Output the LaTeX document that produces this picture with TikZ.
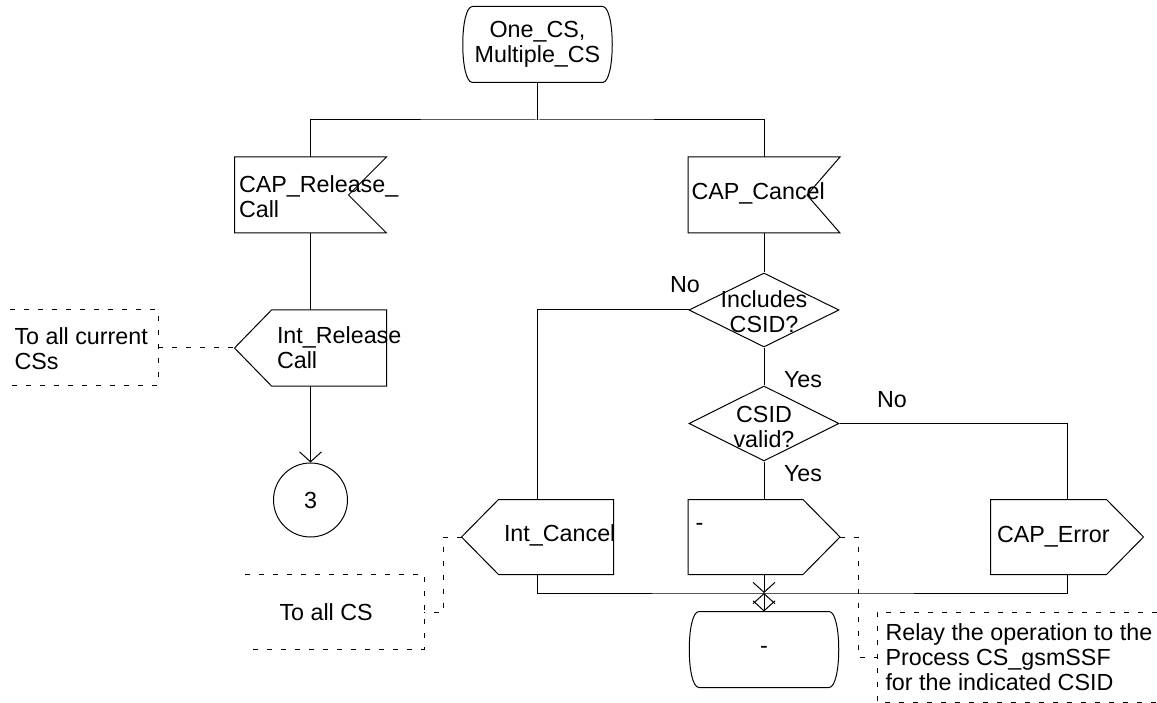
\documentclass[tikz,border=0pt]{standalone}
\usepackage{fontspec}
\setmainfont{Liberation Sans}
\usetikzlibrary{arrows.meta,shapes.geometric,positioning}

% SDL symbols, drawn round a plain node
\newcommand{\sdlinput}[2]{% notch on the right
  \draw (#1.north west) -- (#1.north east) -- ([xshift=-#2]#1.east) -- (#1.south east) -- (#1.south west) -- cycle;}
\newcommand{\sdloutleft}[1]{%
  \draw (#1.west) -- ([xshift=37pt]#1.north west) -- (#1.north east) -- (#1.south east) -- ([xshift=37pt]#1.south west) -- cycle;}
\newcommand{\sdloutright}[1]{%
  \draw (#1.east) -- ([xshift=-37pt]#1.north east) -- (#1.north west) -- (#1.south west) -- ([xshift=-37pt]#1.south east) -- cycle;}
\newcommand{\sdlstate}[1]{% straight top and bottom, bent sides
  \draw ([xshift=10pt]#1.north west) -- ([xshift=-10pt]#1.north east)
    .. controls ([xshift=3pt]#1.north east) and ([xshift=3pt]#1.south east) .. ([xshift=-10pt]#1.south east)
    -- ([xshift=10pt]#1.south west)
    .. controls ([xshift=-3pt]#1.south west) and ([xshift=-3pt]#1.north west) .. cycle;}

\begin{document}
\begin{tikzpicture}[x=1pt,y=-1pt,line width=1pt,>={Straight Barb[length=10pt,width=22pt]},
    every node/.style={font=\fontsize{23.3}{25}\selectfont},
    box/.style={minimum width=151pt,minimum height=75pt,inner sep=0pt},
    decide/.style={draw,diamond,minimum width=150pt,minimum height=74pt,inner sep=0pt},
    txt/.style={align=left,inner sep=0pt},
    note/.style={dash pattern=on 5pt off 9pt}]
    \useasboundingbox (0,0) rectangle (1157,703);

    % Start
    \node[box,minimum width=149pt,align=center] (start) at (537.5,44.5) {One\_CS,\\Multiple\_CS};
    \sdlstate{start}

    % Inputs
    \node[box] (relcall) at (310.5,195) {};
    \sdlinput{relcall}{38pt}
    \node[txt,anchor=west] (relcallT) at ([xshift=4pt,yshift=-2pt]relcall.west) {CAP\_Release\_\\Call};
    \node[box] (cancel) at (764,195) {};
    \sdlinput{cancel}{33pt}
    \node[txt,anchor=west] (cancelT) at ([xshift=3pt,yshift=2pt]cancel.west) {CAP\_Cancel};

    % Decisions
    \node[decide] (incl) at (764,310) {};
    \node[txt,align=center] (inclT) at ([yshift=-2pt]incl) {Includes\\CSID?};
    \node[decide,minimum height=75pt] (valid) at (764,423.5) {};
    \node[txt,align=center] (validT) at ([yshift=-3pt]valid) {CSID\\valid?};

    % Outputs
    \node[box] (intrel) at (310.5,348) {};
    \sdloutleft{intrel}
    \node[txt,anchor=west] (intrelT) at ([xshift=42pt]intrel.west) {Int\_Release\\Call};
    \node[box,minimum height=74pt] (intcan) at (537.5,537) {};
    \sdloutleft{intcan}
    \node[txt,anchor=west] (intcanT) at ([xshift=42pt,yshift=2pt]intcan.west) {Int\_Cancel};
    \node[box,minimum height=74pt] (dash) at (764,537) {};
    \sdloutright{dash}
    \node[txt,anchor=west] (dashT) at ([xshift=7pt,yshift=10pt]dash.west) {-};
    \node[box,minimum height=74pt,minimum width=152pt] (caperr) at (1067,537) {};
    \sdloutright{caperr}
    \node[txt,anchor=west] (caperrT) at ([xshift=6pt]caperr.west) {CAP\_Error};

    % Connector and stop
    \node[draw,circle,minimum size=74pt,inner sep=0pt] (three) at (310.5,500) {3};
    \node[box,minimum width=149pt] (stop) at (764,649.5) {-};
    \sdlstate{stop}

    % Flow lines
    \coordinate (split) at (537.5,120);
    \coordinate (join) at (764,593);
    \draw (start) -- (split);
    \draw (relcall.north) |- (split) -| (cancel.north);
    \draw (relcall) -- (intrel);
    \draw[->] (intrel) -- (three);
    \draw (cancel) -- (incl);
    \draw (incl) -- (valid);
    \draw (valid) -- (dash);
    \draw (incl.west) -| (intcan.north);
    \draw (valid.east) -| (caperr.north);
    \draw[->] (dash) -- (join);
    \draw (intcan.south) |- (join) -| (caperr.south);
    \draw[<->] (join) -- (stop);

    % Answers
    \node (no1) at (685,285) {No};
    \node (yes1) at (803,380) {Yes};
    \node (no2) at (892,400) {No};
    \node (yes2) at (803,474) {Yes};

    % Comments
    \draw[note] (10,310) -| (158,385) -- (10,385);
    \node[txt,anchor=west] (c1T) at (14,349) {To all current\\CSs};
    \coordinate (c1) at (158,348);
    \draw[note] (c1) -- (intrel.west);

    \draw[note] (245,574) -| (424,649) -- (245,649);
    \node[txt,anchor=west] (c2T) at (279,612) {To all CS};
    \coordinate (c2) at (424,612);
    \draw[note] (intcan.west) -- (443,537) |- (c2);

    \draw[note] (1157,612) -| (877,702) -- (1157,702);
    \node[txt,anchor=west] (c3T) at (885,657) {Relay the operation to the\\Process CS\_gsmSSF\\for the indicated CSID};
    \coordinate (c3) at (877,657);
    \draw[note] (dash.east) -- (858,537) |- (c3);
\end{tikzpicture}
\end{document}
